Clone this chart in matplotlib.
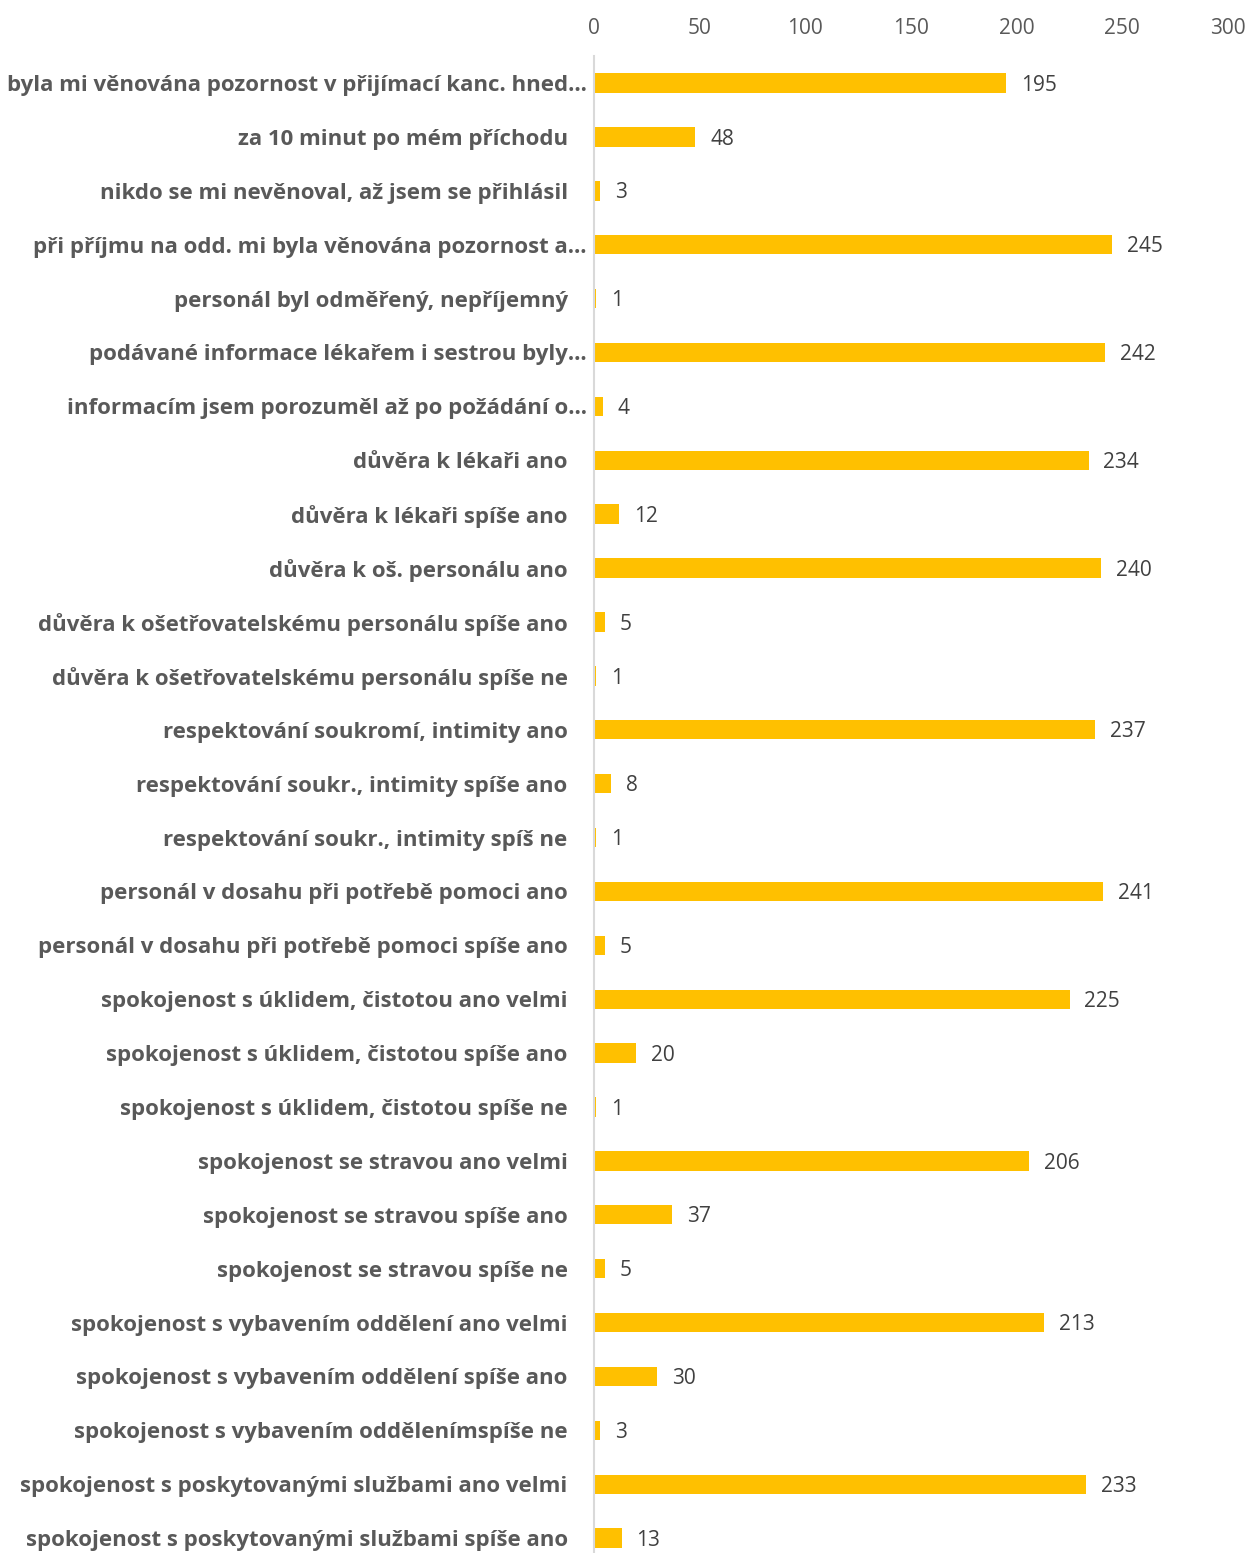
import matplotlib
matplotlib.use("Agg")
import matplotlib.pyplot as plt
from matplotlib.transforms import ScaledTranslation

categories = [
    "byla mi věnována pozornost v přijímací kanc. hned…",
    "za 10 minut po mém příchodu",
    "nikdo se mi nevěnoval, až jsem se přihlásil",
    "při příjmu na odd. mi byla věnována pozornost a…",
    "personál byl odměřený, nepříjemný",
    "podávané informace lékařem i sestrou byly…",
    "informacím jsem porozuměl až po požádání o…",
    "důvěra k lékaři ano",
    "důvěra k lékaři spíše ano",
    "důvěra k oš. personálu ano",
    "důvěra k ošetřovatelskému personálu spíše ano",
    "důvěra k ošetřovatelskému personálu spíše ne",
    "respektování soukromí, intimity ano",
    "respektování soukr., intimity spíše ano",
    "respektování soukr., intimity spíš ne",
    "personál v dosahu při potřebě pomoci ano",
    "personál v dosahu při potřebě pomoci spíše ano",
    "spokojenost s úklidem, čistotou ano velmi",
    "spokojenost s úklidem, čistotou spíše ano",
    "spokojenost s úklidem, čistotou spíše ne",
    "spokojenost se stravou ano velmi",
    "spokojenost se stravou spíše ano",
    "spokojenost se stravou spíše ne",
    "spokojenost s vybavením oddělení ano velmi",
    "spokojenost s vybavením oddělení spíše ano",
    "spokojenost s vybavením oddělenímspíše ne",
    "spokojenost s poskytovanými službami ano velmi",
    "spokojenost s poskytovanými službami spíše ano",
]
values = [195, 48, 3, 245, 1, 242, 4, 234, 12, 240, 5, 1, 237, 8, 1, 241, 5,
          225, 20, 1, 206, 37, 5, 213, 30, 3, 233, 13]
ticks = [0, 50, 100, 150, 200, 250, 300]

plt.rcParams["font.family"] = ["Open Sans", "DejaVu Sans"]
grey = "#595959"

fig = plt.figure(figsize=(12.48, 15.53), dpi=100)
ax = fig.add_axes([0.476, -0.0078, 0.508, 0.9717])

pos = list(range(len(categories)))
ax.barh(pos, values, height=0.36, color="#FFC000")

# value labels right of bars
for p, v in zip(pos, values):
    ax.text(v + 7, p + 0.04, str(v), va="center", ha="left", fontsize=15, color="#404040")

ax.set_xlim(0, 300)
ax.set_ylim(len(categories) - 0.5, -0.5)
ax.set_xticks(ticks)
ax.xaxis.tick_top()
ax.tick_params(axis="x", length=0, labelsize=15, labelcolor=grey, pad=12)
ax.set_yticks(pos)
ax.set_yticklabels(categories, fontsize=16, fontweight="bold", color=grey)
ax.tick_params(axis="y", length=0, pad=19)

# truncated labels sit a bit closer to the axis
for lbl in ax.get_yticklabels():
    if lbl.get_text().endswith("…"):
        lbl.set_transform(lbl.get_transform() + ScaledTranslation(0.19, 0, fig.dpi_scale_trans))

for s in ["top", "right", "bottom"]:
    ax.spines[s].set_visible(False)
ax.spines["left"].set_color("#d9d9d9")
ax.spines["left"].set_linewidth(1.5)

fig.savefig("out.png", dpi=100)
